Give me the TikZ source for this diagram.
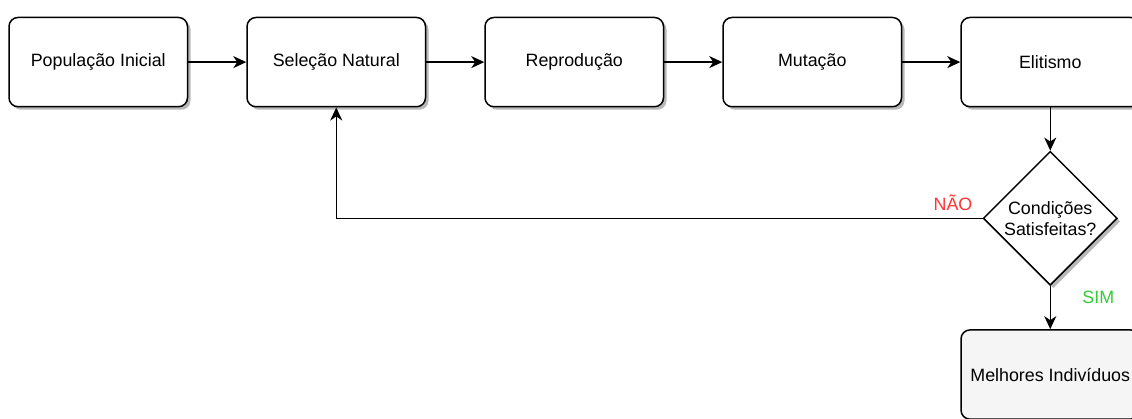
\documentclass[tikz,border=0pt]{standalone}
\usepackage{fontspec}
\setmainfont{Liberation Sans}
\usetikzlibrary{arrows.meta, shapes.geometric, positioning, shadows}
\definecolor{NaoRed}{RGB}{255, 51, 51}
\definecolor{SimGreen}{RGB}{51, 204, 51}
\definecolor{FimGray}{RGB}{245, 245, 245}

\begin{document}
\begin{tikzpicture}[
                x=1pt, y=-1pt,
                node distance=43.1pt and 58pt,
                etapa/.style={rectangle, draw=black, fill=white, line width=1.5pt,
                              minimum width=178.5pt, minimum height=89.25pt,
                              font=\fontsize{17.85}{21}\selectfont, align=center, rounded corners=9pt,
                              drop shadow={shadow xshift=3pt, shadow yshift=-3pt, fill=black!28, opacity=1}},
                decisao/.style={diamond, draw=black, fill=white, line width=1.5pt,
                                minimum width=134pt, minimum height=134pt, inner sep=0pt,
                                font=\fontsize{17.85}{21}\selectfont, align=center,
                                drop shadow={shadow xshift=3pt, shadow yshift=-3pt, fill=black!28, opacity=1}},
                rotulo/.style={font=\fontsize{17.85}{21}\selectfont, inner sep=0pt},
                arr/.style={-{Stealth[length=13pt, width=12pt, inset=4pt]}, line width=1.5pt}
            ]
                \clip (0,0) rectangle (1132,419);
                \useasboundingbox (0,0) rectangle (1132,419);

                \node[etapa] (populacao) at (98.25,62.1) {População Inicial};
                \node[etapa, right=of populacao] (selecao) {Seleção Natural};
                \node[etapa, right=of selecao] (reproducao) {Reprodução};
                \node[etapa, right=of reproducao] (mutacao) {Mutação};
                \node[etapa, right=of mutacao] (elitismo) {Elitismo};
                \node[decisao, below=of elitismo] (condicoes) {Condições\\Satisfeitas?};
                \node[etapa, fill=FimGray, below=of condicoes] (melhores) {Melhores Indivíduos};

                \draw[arr] (populacao.east) -- (selecao.west);
                \draw[arr] (selecao.east) -- (reproducao.west);
                \draw[arr] (reproducao.east) -- (mutacao.west);
                \draw[arr] (mutacao.east) -- (elitismo.west);
                \draw[arr] (elitismo.south) -- (condicoes.north);
                \draw[arr] (condicoes.west) -| (selecao.south);
                \draw[arr] (condicoes.south) -- (melhores.north);

                \node[rotulo, text=NaoRed, anchor=south east] (nao) at ([xshift=-10pt, yshift=7pt]condicoes.west) {NÃO};
                \node[rotulo, text=SimGreen, anchor=north west] (sim) at ([xshift=32pt, yshift=-5pt]condicoes.south) {SIM};
            \end{tikzpicture}
\end{document}
